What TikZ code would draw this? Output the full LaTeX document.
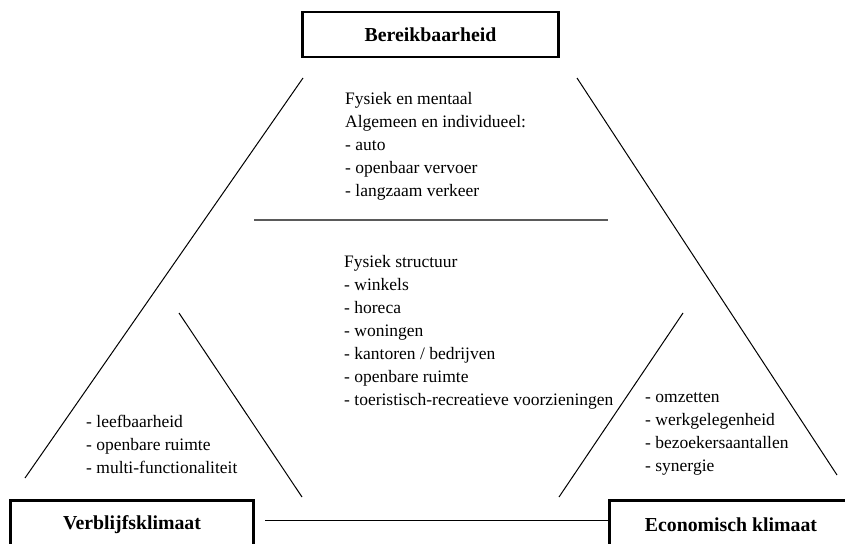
\documentclass[tikz,border=0pt]{standalone}
\usepackage{fontspec}
\setmainfont{Liberation Serif}
\usepackage{tikz}
\usetikzlibrary{positioning,calc}
\definecolor{bkGray}{HTML}{5A5A5A}

\tikzset{
  kader/.style={draw,line width=2.4pt,inner sep=0pt,font=\fontsize{19.8}{22}\selectfont\bfseries},
  lijst/.style={align=left,anchor=base west,inner sep=0pt,font=\fontsize{17.5}{23}\selectfont},
  lijn/.style={line width=1pt}
}

\begin{document}
\begin{tikzpicture}[x=1pt,y=-1pt]
\useasboundingbox (0,0) rectangle (845,543);
% de drie kaders
\node[kader,minimum width=256pt,minimum height=45pt] (bereik) at (430.5,34.5) {Bereikbaarheid};
\node[kader,minimum width=243pt,minimum height=48pt] (verblijf) at (132,524.5) {Verblijfsklimaat};
\node[kader,minimum width=243pt,minimum height=48pt] (econ) at (731,524.5) {Economisch klimaat};
% lijnen van de driehoek
\coordinate (lb) at (25,478);
\coordinate (lt) at (303,78);
\coordinate (rt) at (577,78);
\coordinate (rb) at (837,475);
\draw[lijn] (lb) -- (lt);
\draw[lijn] (rt) -- (rb);
\coordinate (lit) at (179,313);
\coordinate (lib) at (302,497);
\coordinate (rib) at (559,497);
\coordinate (rit) at (683,313);
\draw[lijn] (lit) -- (lib);
\draw[lijn] (rib) -- (rit);
\coordinate (ml) at (254,220);
\coordinate (mr) at (608,220);
\draw[bkGray,line width=1.6pt] (ml) -- (mr);
\coordinate (ol) at (265,520);
\draw[lijn] (ol) -- (ol -| econ.west);
% teksten (anker op de basislijn van de laatste regel)
\node[lijst] (bereiktekst) at (345,196) {Fysiek en mentaal\\Algemeen en individueel:\\- auto\\- openbaar vervoer\\- langzaam verkeer};
\node[lijst] (structuur) at (344,405) {Fysiek structuur\\- winkels\\- horeca\\- woningen\\- kantoren / bedrijven\\- openbare ruimte\\- toeristisch-recreatieve voorzieningen};
\node[lijst] (verblijftekst) at (86,473) {- leefbaarheid\\- openbare ruimte\\- multi-functionaliteit};
\node[lijst] (econtekst) at (645,471) {- omzetten\\- werkgelegenheid\\- bezoekersaantallen\\- synergie};
\end{tikzpicture}
\end{document}
